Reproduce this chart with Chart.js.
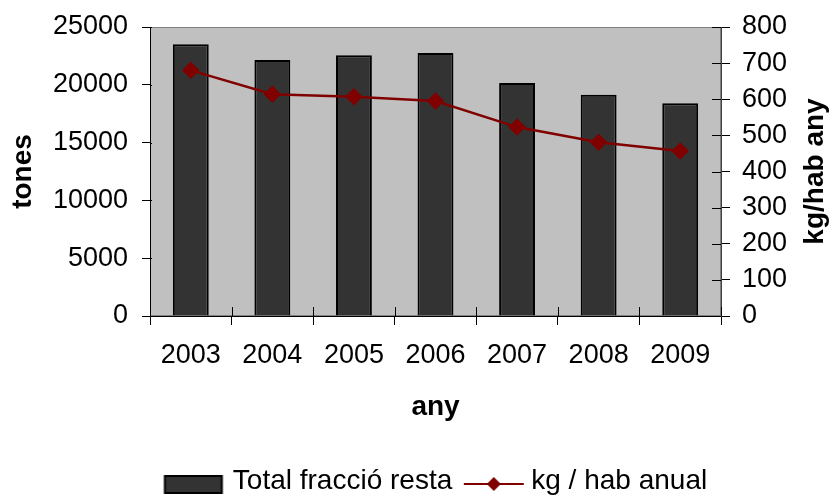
<!DOCTYPE html>
<html>
<head>
<meta charset="utf-8">
<script src="https://cdn.jsdelivr.net/npm/chart.js@4.4.1/dist/chart.umd.min.js"></script>
<style>
    html, body { margin: 0; padding: 0; background: #fff; }
    #wrap { width: 832px; height: 497px; }
</style>
</head>
<body>
<div id="wrap"><canvas id="chart" width="832" height="497"></canvas></div>
<script>
// Dades llegides del gràfic
const categories = ['2003', '2004', '2005', '2006', '2007', '2008', '2009'];
const tonnes = [23500, 22150, 22550, 22750, 20150, 19150, 18400];
const kgPerHab = [680, 614, 607, 595, 523, 481, 457];

const leftTicks = [0, 5000, 10000, 15000, 20000, 25000];
const rightTicks = [0, 100, 200, 300, 400, 500, 600, 700, 800];

const seriesNames = ['Total fracció resta', 'kg / hab anual'];
const axisTitles = { left: 'tones', right: 'kg/hab any', bottom: 'any' };

const FONT = "'Liberation Sans', Arial, sans-serif";
const BAR_COLOR = '#333333';
const LINE_COLOR = '#800000';

// Icones de la llegenda (dibuixades a mà en petits canvas)
function makeBarIcon() {
    const c = document.createElement('canvas');
    c.width = 80; c.height = 26;
    const g = c.getContext('2d');
    g.fillStyle = BAR_COLOR;
    g.fillRect(13.5, 8, 57, 17);
    g.strokeStyle = '#000';
    g.lineWidth = 2;
    g.strokeRect(13.5, 8, 57, 17);
    return c;
}

function makeLineIcon() {
    const c = document.createElement('canvas');
    c.width = 80; c.height = 26;
    const g = c.getContext('2d');
    g.strokeStyle = LINE_COLOR;
    g.lineWidth = 2;
    g.beginPath();
    g.moveTo(14, 16);
    g.lineTo(74, 16);
    g.stroke();
    g.fillStyle = LINE_COLOR;
    g.beginPath();
    g.moveTo(44, 9); g.lineTo(51, 16); g.lineTo(44, 23); g.lineTo(37, 16);
    g.closePath();
    g.fill();
    return c;
}

const legendIcons = [makeBarIcon(), makeLineIcon()];

// Fons de l'àrea, marques de divisió interiors i títols verticals
const plotExtras = {
    id: 'plotExtras',
    beforeDraw(chart) {
        const { ctx, chartArea: a } = chart;
        ctx.save();
        ctx.fillStyle = '#fff';
        ctx.fillRect(0, 0, chart.width, chart.height);
        ctx.fillStyle = '#c0c0c0';
        ctx.fillRect(a.left, a.top, a.right - a.left, a.bottom - a.top);
        ctx.strokeStyle = '#808080';
        ctx.lineWidth = 1;
        ctx.strokeRect(a.left + 0.5, a.top + 0.5, a.right - a.left - 1, a.bottom - a.top - 1);
        ctx.restore();
    },
    afterDraw(chart) {
        const { ctx, chartArea: a, scales } = chart;
        ctx.save();
        ctx.strokeStyle = '#000';
        ctx.lineWidth = 1;
        ctx.beginPath();
        // x: marques entre categories
        const x = scales.x;
        const half = (x.getPixelForValue(1) - x.getPixelForValue(0)) / 2;
        for (let i = 0; i <= categories.length; i++) {
            const px = Math.round(x.getPixelForValue(i) - half) + 0.5;
            ctx.moveTo(px, a.bottom - 9);
            ctx.lineTo(px, a.bottom);
        }
        // eix dret
        rightTicks.forEach(v => {
            const py = Math.round(scales.y1.getPixelForValue(v)) + 0.5;
            ctx.moveTo(a.right - 9, py);
            ctx.lineTo(a.right, py);
        });
        // eix esquerre
        leftTicks.forEach(v => {
            const py = Math.round(scales.y.getPixelForValue(v)) + 0.5;
            ctx.moveTo(a.left, py);
            ctx.lineTo(a.left + 2, py);
        });
        ctx.stroke();

        // títols verticals, girats com a l'original
        const midY = (a.top + a.bottom) / 2;
        ctx.fillStyle = '#000';
        ctx.font = "bold 28px " + FONT;
        ctx.textAlign = 'center';
        ctx.textBaseline = 'middle';
        [[23, axisTitles.left], [815, axisTitles.right]].forEach(([tx, text]) => {
            ctx.save();
            ctx.translate(tx, midY);
            ctx.rotate(-Math.PI / 2);
            ctx.fillText(text, 0, 0);
            ctx.restore();
        });
        ctx.restore();
    }
};

// amplada fixa de l'eix vertical i sense marge extra per a les etiquetes
function fixYAxis(s) {
    s.width = 111;
    s.paddingTop = 0;
    s.paddingBottom = 0;
}

const chart = new Chart(document.getElementById('chart'), {
    type: 'bar',
    data: {
        labels: categories,
        datasets: [
            {
                type: 'bar',
                label: seriesNames[0],
                data: tonnes,
                yAxisID: 'y',
                backgroundColor: BAR_COLOR,
                borderColor: '#000',
                borderWidth: 2,
                barPercentage: 0.44,
                categoryPercentage: 1,
                order: 0
            },
            {
                type: 'line',
                label: seriesNames[1],
                data: kgPerHab,
                yAxisID: 'y1',
                borderColor: LINE_COLOR,
                borderWidth: 2.5,
                pointStyle: 'rectRot',
                pointRadius: 7,
                pointBackgroundColor: LINE_COLOR,
                pointBorderColor: LINE_COLOR,
                tension: 0,
                order: -1
            }
        ]
    },
    options: {
        responsive: false,
        animation: false,
        devicePixelRatio: 1,
        layout: { padding: { left: 39, right: 0, top: 27, bottom: -8 } },
        plugins: {
            tooltip: { enabled: false },
            legend: {
                position: 'bottom',
                labels: {
                    font: { family: FONT, size: 28 },
                    color: '#000',
                    padding: 10,
                    usePointStyle: true,
                    pointStyleWidth: 55,
                    generateLabels: () => seriesNames.map((name, i) => ({
                        text: name,
                        pointStyle: legendIcons[i],
                        datasetIndex: i,
                        fontColor: '#000',
                        lineWidth: 0,
                        hidden: false
                    }))
                }
            }
        },
        scales: {
            x: {
                offset: true,
                grid: { display: true, drawOnChartArea: false, drawTicks: true, tickLength: 9, color: '#000', offset: true },
                border: { display: true, color: '#000', width: 1 },
                ticks: { font: { family: FONT, size: 27 }, color: '#000', padding: 14, maxRotation: 0 },
                title: {
                    display: true,
                    text: axisTitles.bottom,
                    font: { family: FONT, size: 28, weight: 'bold' },
                    color: '#000',
                    padding: { top: 0, bottom: 33 }
                },
                afterFit: s => { s.height = 141; }
            },
            y: {
                position: 'left',
                min: leftTicks[0],
                max: leftTicks[leftTicks.length - 1],
                afterBuildTicks: s => { s.ticks = leftTicks.map(v => ({ value: v })); },
                grid: { drawOnChartArea: false, drawTicks: true, tickLength: 8, color: '#000' },
                border: { display: true, color: '#000', width: 1 },
                ticks: { font: { family: FONT, size: 27 }, color: '#000', padding: 14, autoSkip: false, callback: v => String(v) },
                afterFit: fixYAxis
            },
            y1: {
                position: 'right',
                min: rightTicks[0],
                max: rightTicks[rightTicks.length - 1],
                afterBuildTicks: s => { s.ticks = rightTicks.map(v => ({ value: v })); },
                grid: { drawOnChartArea: false, drawTicks: true, tickLength: 9, color: '#000' },
                border: { display: true, color: '#404040', width: 1 },
                ticks: { font: { family: FONT, size: 27 }, color: '#000', padding: 12, autoSkip: false, callback: v => String(v) },
                afterFit: fixYAxis
            }
        }
    },
    plugins: [plotExtras]
});
</script>
</body>
</html>
